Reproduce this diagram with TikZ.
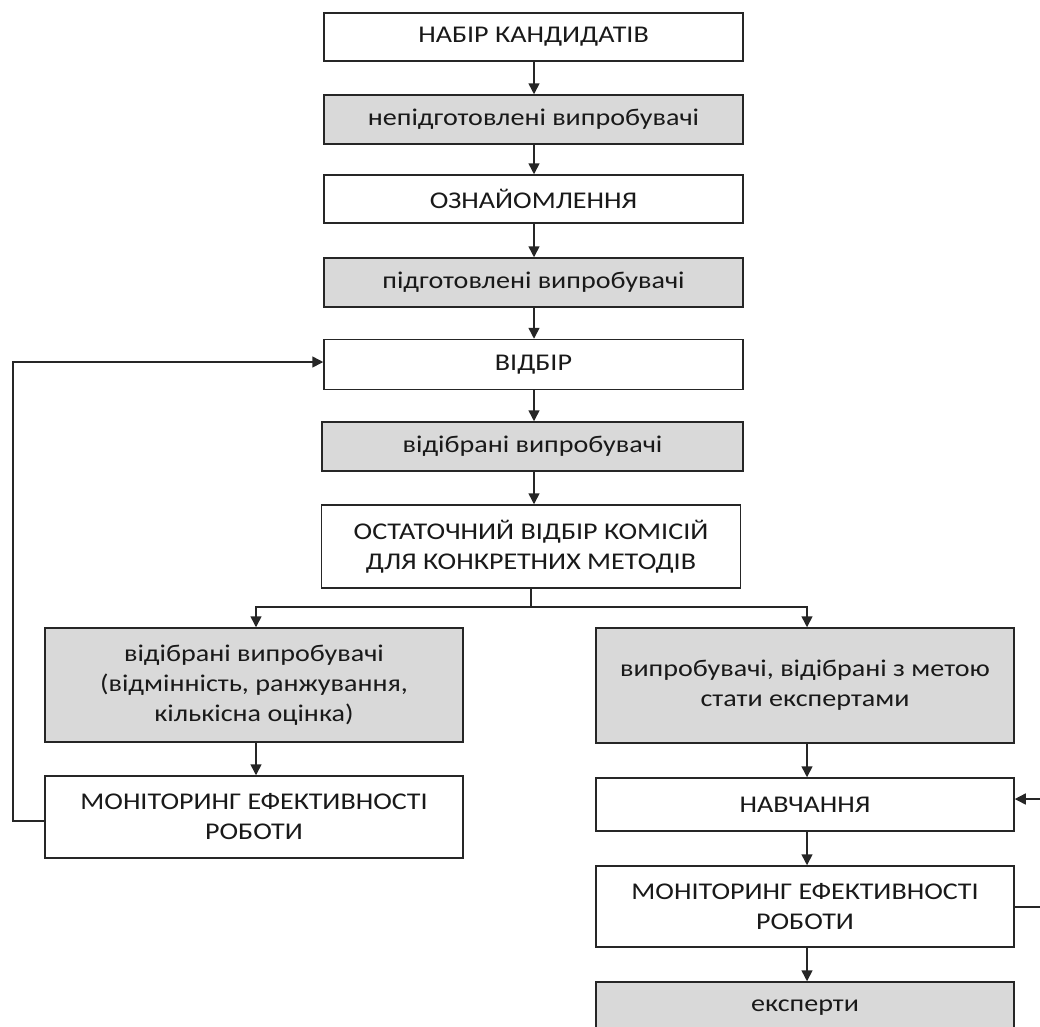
\documentclass[tikz,border=0pt]{standalone}
\usepackage{fontspec}
\setmainfont{Carlito}[FakeStretch=1.17]
\usetikzlibrary{arrows.meta}
\tikzset{
  box/.style={draw=black!85, line width=1.5pt, fill=white, rectangle, align=center,
    inner sep=0pt, font=\fontsize{24}{30}\selectfont, text=black!90},
  wbox/.style={box, fill=white},
  gbox/.style={box, fill=black!15},
  conn/.style={line width=1.5pt, draw=black!85, -{Triangle[length=11pt,width=11pt]}},
  line/.style={line width=1.5pt, draw=black!85}
}
\begin{document}
\begin{tikzpicture}[x=1pt,y=-1pt]
\useasboundingbox (0,0) rectangle (1040,1026);
\clip (0,0) rectangle (1040,1026);
% center column
\node[wbox, minimum width=419pt, minimum height=48pt] (n1) at (533.5,37) {НАБІР КАНДИДАТІВ};
\node[gbox, minimum width=419pt, minimum height=49pt] (n2) at (533.5,119.5) {непідготовлені випробувачі};
\node[wbox, minimum width=419pt, minimum height=48pt] (n3) at (533.5,199) {ОЗНАЙОМЛЕННЯ};
\node[gbox, minimum width=419pt, minimum height=49pt] (n4) at (533.5,282.5) {підготовлені випробувачі};
\node[wbox, minimum width=419pt, minimum height=50pt] (n5) at (533.5,364.5) {ВІДБІР};
\node[gbox, minimum width=421pt, minimum height=49pt] (n6) at (532.5,446.5) {відібрані випробувачі};
\node[wbox, minimum width=419pt, minimum height=83pt] (n7) at (531,546.5) {ОСТАТОЧНИЙ ВІДБІР КОМІСІЙ\\ДЛЯ КОНКРЕТНИХ МЕТОДІВ};
% left branch
\node[gbox, minimum width=418pt, minimum height=114pt] (l1) at (254,685) {відібрані випробувачі\\(відмінність, ранжування,\\кількісна оцінка)};
\node[wbox, minimum width=418pt, minimum height=82pt] (l2) at (254,817) {МОНІТОРИНГ ЕФЕКТИВНОСТІ\\РОБОТИ};
% right branch
\node[gbox, minimum width=418pt, minimum height=115pt] (r1) at (805,685.5) {випробувачі, відібрані з метою\\стати експертами};
\node[wbox, minimum width=418pt, minimum height=53pt] (r2) at (805,804.5) {НАВЧАННЯ};
\node[wbox, minimum width=418pt, minimum height=81pt] (r3) at (805,906.5) {МОНІТОРИНГ ЕФЕКТИВНОСТІ\\РОБОТИ};
\node[gbox, minimum width=418pt, minimum height=52pt] (r4) at (805,1008) {експерти};
% connectors
\draw[conn] (n1.south -| 534,0) -- (n2.north -| 534,0);
\draw[conn] (n2.south -| 534,0) -- (n3.north -| 534,0);
\draw[conn] (n3.south -| 534,0) -- (n4.north -| 534,0);
\draw[conn] (n4.south -| 534,0) -- (n5.north -| 534,0);
\draw[conn] (n5.south -| 534,0) -- (n6.north -| 534,0);
\draw[conn] (n6.south -| 534,0) -- (n7.north -| 534,0);
\coordinate (split) at (n7.south |- 0,607);
\draw[line] (n7.south) -- (split);
\draw[conn] (split) -| (l1.north -| 256,0);
\draw[conn] (split) -| (r1.north -| 807,0);
\draw[conn] (l1.south -| 256,0) -- (l2.north -| 256,0);
\draw[conn] (r1.south -| 807,0) -- (r2.north -| 807,0);
\draw[conn] (r2.south -| 807,0) -- (r3.north -| 807,0);
\draw[conn] (r3.south -| 807,0) -- (r4.north -| 807,0);
% feedback loops
\coordinate (lb) at (13,821);
\coordinate (lt) at (13,362);
\draw[conn] (l2.west |- lb) -- (lb) -- (lt) -- (n5.west |- lt);
\coordinate (rb) at (1046,907);
\coordinate (rt) at (1046,799);
\draw[conn] (r3.east |- rb) -- (rb) -- (rt) -- (r2.east |- rt);
\end{tikzpicture}
\end{document}
